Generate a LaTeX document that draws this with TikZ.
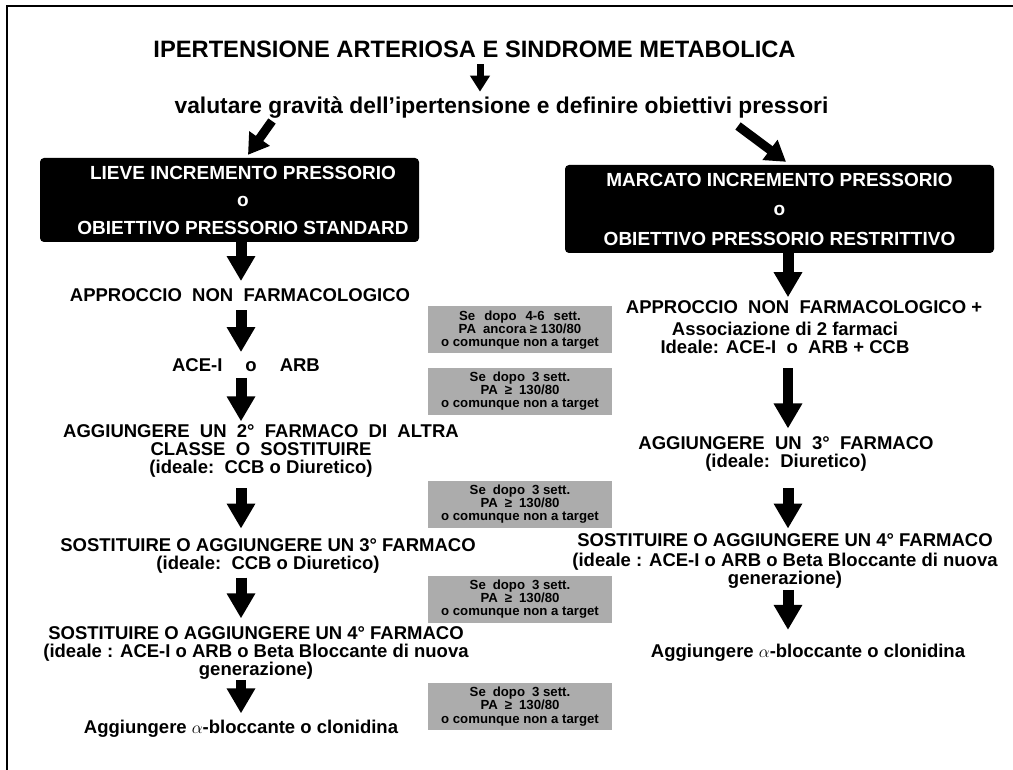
\documentclass[tikz,border=0pt]{standalone}
\usepackage{fontspec}
\setmainfont{Liberation Sans}
\usetikzlibrary{arrows.meta,calc}
\setlength\lineskiplimit{-50pt}
\newcommand{\mlines}[1]{\vtop{\halign{\hfil##\hfil\cr#1\crcr}}}
\newcommand{\gsp}{\hspace{9pt}}
\newcommand{\psp}{\hspace{7pt}}
\begin{document}
\begin{tikzpicture}[x=1pt,y=-1pt,
  txt/.style={inner sep=0pt, anchor=base, font=\fontsize{18.5}{18}\selectfont\bfseries},
  titletxt/.style={inner sep=0pt, anchor=base, font=\fontsize{23.7}{24}\selectfont\bfseries},
  subtxt/.style={inner sep=0pt, anchor=base, font=\fontsize{22.8}{24}\selectfont\bfseries},
  bbox/.style={fill=black, rounded corners=4pt, inner sep=0pt, text=white},
  wtxt/.style={inner sep=0pt, text=white},
  gbox/.style={fill=gray!65, inner sep=0pt, minimum width=184pt, minimum height=47pt,
    font=\fontsize{13.2}{13.2}\selectfont\bfseries},
  barrow/.style={draw=black, line width=11pt, -{Triangle[width=27pt,length=25pt]}},
  tarrow/.style={draw=black, line width=7pt, -{Triangle[width=19pt,length=16pt]}},
  darrow/.style={draw=black, line width=9pt, -{Triangle[width=24pt,length=20pt]}}
]
\useasboundingbox (0,0) rectangle (1013,770);
\fill[white] (0,0) rectangle (1013,770);
\draw[line width=2pt] (7,770) -- (7,6.5) -- (1013,6.5);

% title
\node[titletxt] (title) at (474.5,58) {IPERTENSIONE ARTERIOSA E SINDROME METABOLICA};
\node[subtxt] (sub) at (501.5,114) {valutare gravità dell’ipertensione e definire obiettivi pressori};
\coordinate (tcol) at (480,0);
\draw[tarrow, shorten <=6pt, shorten >=5.4pt] (title.south -| tcol) -- (sub.north -| tcol);

% black boxes
\node[bbox, minimum width=379pt, minimum height=84pt] (lbox) at (229.5,200) {};
\node[wtxt, font=\fontsize{19}{27.5}\selectfont\bfseries] (lboxt) at (243,200)
  {\mlines{LIEVE INCREMENTO PRESSORIO\cr o\cr OBIETTIVO PRESSORIO STANDARD\cr}};
\node[bbox, minimum width=429pt, minimum height=88pt, font=\fontsize{19}{29.5}\selectfont\bfseries] (rbox) at (779.5,209)
  {\mlines{MARCATO INCREMENTO PRESSORIO\cr o\cr OBIETTIVO PRESSORIO RESTRITTIVO\cr}};

% left column
\coordinate (lcol) at (241,0);
\coordinate (rcol) at (788,0);
\coordinate (dl) at (272,121);
\coordinate (dr) at (738,126);
\draw[darrow] (dl) -- ($(lbox.north -| lcol)+(7,-3)$);
\draw[darrow] (dr) -- ($(rbox.north)+(6.5,-3)$);

\node[txt] (appr1) at (240,302) {APPROCCIO~~NON~~FARMACOLOGICO};
\node[txt] (ace) at (246,371.6) {ACE-I\hspace{23pt}o\hspace{23pt}ARB};
\node[txt] (agg2) at (261,437) {\mlines{AGGIUNGERE~~UN~~2°~~FARMACO~~DI~~ALTRA\cr CLASSE~~O~~SOSTITUIRE\cr (ideale:~~CCB o Diuretico)\cr}};
\node[txt] (sost3) at (268,551.7) {\mlines{SOSTITUIRE O AGGIUNGERE UN 3° FARMACO\cr (ideale:~~CCB o Diuretico)\cr}};
\node[txt] (sost4) at (256,639) {\mlines{SOSTITUIRE O AGGIUNGERE UN 4° FARMACO\cr (ideale : ACE-I o ARB o Beta Bloccante di nuova\cr generazione)\cr}};
\node[txt] (alphaL) at (241,733) {Aggiungere $\alpha$-bloccante o clonidina};

\draw[barrow, shorten >=7.8pt] (lbox.south -| lcol) -- (appr1.north -| lcol);
\draw[barrow, shorten <=8pt, shorten >=6.4pt] (appr1.south -| lcol) -- (ace.north -| lcol);
\draw[barrow, shorten <=6pt, shorten >=2.5pt] (ace.south -| lcol) -- (agg2.north -| lcol);
\draw[barrow, shorten <=11pt, shorten >=10pt] (agg2.south -| lcol) -- (sost3.north -| lcol);
\draw[barrow, shorten <=4pt, shorten >=7.5pt] (sost3.south -| lcol) -- (sost4.north -| lcol);
\draw[barrow, line width=10pt, shorten <=1pt, shorten >=6pt] (sost4.south -| lcol) -- (alphaL.north -| lcol);

% right column
\node[txt] (appr2) at (785,313.3) {\mlines{\hspace{38pt}APPROCCIO~~NON~~FARMACOLOGICO +\cr\noalign{\vskip3.7pt} Associazione di 2 farmaci\cr Ideale: ACE-I~~o~~ARB + CCB\cr}};
\node[txt] (agg3) at (786,449.6) {\mlines{AGGIUNGERE~~UN~~3°~~FARMACO\cr (ideale:~~Diuretico)\cr}};
\node[txt] (sost4r) at (785,546.7) {\mlines{SOSTITUIRE O AGGIUNGERE UN 4° FARMACO\cr\noalign{\vskip2pt} (ideale : ACE-I o ARB o Beta Bloccante di nuova\cr generazione)\cr}};
\node[txt] (alphaR) at (808,657.5) {Aggiungere $\alpha$-bloccante o clonidina};

\draw[barrow, shorten >=3pt] (rbox.south -| rcol) -- (appr2.north -| rcol);
\draw[barrow, line width=9.5pt, shorten <=14.7pt, shorten >=8pt] (appr2.south -| rcol) -- (agg3.north -| rcol);
\draw[barrow, shorten <=16.5pt, shorten >=5pt] (agg3.south -| rcol) -- (sost4r.north -| rcol);
\draw[barrow, shorten <=1pt, shorten >=14pt] (sost4r.south -| rcol) -- (alphaR.north -| rcol);

% grey boxes
\node[gbox] (g1) at (520,330) {\mlines{Se\gsp dopo\gsp 4-6\gsp sett.\cr PA\psp ancora ≥ 130/80\cr o comunque non a target\cr}};
\node[gbox] (g2) at (520,391) {\mlines{Se\psp dopo\psp 3 sett.\cr PA\psp≥\psp130/80\cr o comunque non a target\cr}};
\node[gbox] (g3) at (520,504) {\mlines{Se\psp dopo\psp 3 sett.\cr PA\psp≥\psp130/80\cr o comunque non a target\cr}};
\node[gbox] (g4) at (520,599) {\mlines{Se\psp dopo\psp 3 sett.\cr PA\psp≥\psp130/80\cr o comunque non a target\cr}};
\node[gbox] (g5) at (520,706.5) {\mlines{Se\psp dopo\psp 3 sett.\cr PA\psp≥\psp130/80\cr o comunque non a target\cr}};
\end{tikzpicture}
\end{document}
